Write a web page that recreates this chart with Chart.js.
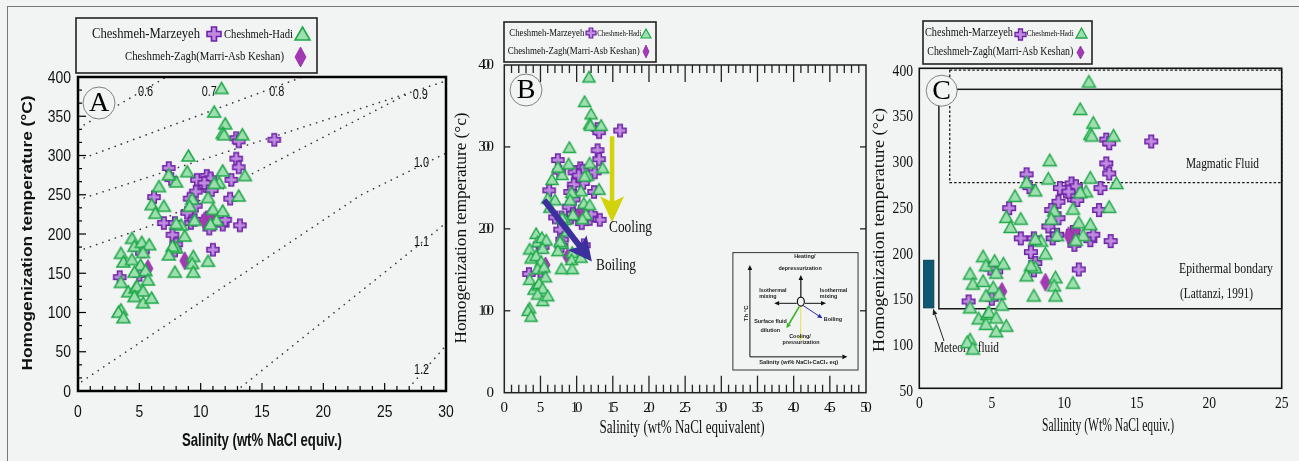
<!DOCTYPE html>
<html>
<head>
<meta charset="utf-8">
<title>Fluid inclusion Th vs salinity</title>
<script src="https://cdn.jsdelivr.net/npm/chart.js@4.4.0/dist/chart.umd.min.js"></script>
<style>
    html, body { margin: 0; padding: 0; background: #f2f3f3; }
    body { width: 1299px; height: 461px; position: relative; overflow: hidden; }
    #frame {
        position: absolute; left: 7px; top: 6px; width: 1300px; height: 470px;
        border-top: 1px solid #777; border-left: 1px solid #777;
    }
    canvas { position: absolute; }
</style>
</head>
<body>
<div id="frame"></div>
<canvas id="chartA"></canvas>
<canvas id="chartB"></canvas>
<canvas id="chartC"></canvas>
<script>
// Salinity (wt% NaCl equiv.) / homogenization temperature (°C)
const marzeyeh = [
    [16.0,320],[12.9,322],[13.1,318],[12.9,296],[13.1,285],[12.5,269],[12.4,245],[13.2,211],
    [11.8,212],[12.0,218],[11.0,180],[10.7,207],[10.5,274],[10.8,271],[10.4,261],[10.9,256],
    [9.7,269],[9.6,254],[9.1,245],[9.6,236],[8.9,227],[9.2,214],[7.4,284],[7.6,270],
    [6.2,247],[7.0,214],[7.9,214],[7.7,199],[8.0,187],[7.9,179],[5.3,178],[5.0,148],
    [3.4,145],[4.9,181],[10.3,265],[10.6,221],[9.5,218]
];
const hadi = [
    [11.7,386],[11.1,356],[12.0,341],[11.8,329],[11.9,327],[13.4,327],[9.0,300],[8.9,280],
    [11.8,281],[13.6,275],[11.5,266],[11.1,265],[10.6,247],[13.1,249],[11.0,232],[11.8,230],
    [11.3,218],[10.8,213],[9.3,245],[9.1,236],[9.5,218],[9.4,172],[9.3,163],[9.4,152],
    [10.6,166],[7.9,152],[8.0,183],[7.7,185],[7.4,174],[8.7,198],[8.4,212],[8.0,214],
    [8.0,267],[7.4,276],[6.6,261],[6.0,238],[7.0,236],[6.3,227],[4.4,195],[4.6,185],
    [5.2,190],[5.8,187],[5.3,177],[3.5,176],[3.7,165],[4.4,168],[5.1,161],[4.6,152],
    [5.5,154],[5.7,142],[3.5,139],[4.1,127],[4.7,132],[4.8,134],[5.3,128],[4.6,121],
    [5.3,113],[6.0,119],[3.5,104],[3.3,101],[3.7,94]
];
const zagh = [[5.7,156],[8.7,166],[10.3,217],[10.8,223]];

// tick labels
const xTicksA = [0, 5, 10, 15, 20, 25, 30];
const yTicksA = [0, 50, 100, 150, 200, 250, 300, 350, 400];
const xTicksB = [0, 5, 10, 15, 20, 25, 30, 35, 40, 45, 50];
const yTicksB = [0, 100, 200, 300, 400];
const xTicksC = [0, 5, 10, 15, 20, 25];
const yTicksC = [50, 100, 150, 200, 250, 300, 350, 400];

// density isopleths of panel A (g/cm3)
const isoLines = [
    [[0.5,339],[7.2,400]],
    [[0.5,297],[18.3,400]],
    [[0.5,246],[30,395]],
    [[0.5,181],[6,211],[26.7,377]],
    [[0.3,12],[23.1,250],[30,303]],
    [[13.3,5],[27.3,180],[30,214]],
    [[27.3,10],[30,58]]
];
const isoLabels = ['0.6', '0.7', '0.8', '0.9', '1.0', '1.1', '1.2'];
const isoLabelAt = [[5.5,381],[10.7,381],[16.2,381],[27.9,377],[28,290],[28,190],[28,27]];

// panel B trends, panel C fields
const coolingArrow = [[14.9,313],[14.9,208]];
const boilingArrow = [[5.5,235],[12.1,160]];
const magmaticField = [2.1, 25, 275, 398];
const epithermalField = [1.35, 25, 137, 377];
const meteoricField = [0.3, 1.0, 138, 190];

const BG = '#f2f3f3';
const SERIF = '"Liberation Serif", "Times New Roman", serif';
const SANS = '"Liberation Sans", Arial, sans-serif';

// ---- marker images ----
function crossMarker(size, arm, lw) {
    const pad = Math.ceil(lw) + 1;
    const c = document.createElement('canvas');
    c.width = c.height = size + pad * 2;
    const g = c.getContext('2d');
    const m = c.width / 2, r = size / 2, h = arm / 2;
    const pts = [[-h,-r],[h,-r],[h,-h],[r,-h],[r,h],[h,h],[h,r],[-h,r],[-h,h],[-r,h],[-r,-h],[-h,-h]];
    g.beginPath();
    pts.forEach((p, i) => i ? g.lineTo(m + p[0], m + p[1]) : g.moveTo(m + p[0], m + p[1]));
    g.closePath();
    g.fillStyle = '#c18be0';
    g.fill();
    g.lineWidth = lw;
    g.strokeStyle = '#6d22a8';
    g.stroke();
    return c;
}

function triMarker(w, h, lw) {
    const pad = Math.ceil(lw) + 1;
    const c = document.createElement('canvas');
    c.width = w + pad * 2;
    c.height = h + pad * 2;
    const g = c.getContext('2d');
    g.beginPath();
    g.moveTo(c.width / 2, pad);
    g.lineTo(pad + w, pad + h);
    g.lineTo(pad, pad + h);
    g.closePath();
    g.fillStyle = '#9ddfae';
    g.fill();
    g.lineWidth = lw;
    g.strokeStyle = '#1fa94a';
    g.stroke();
    return c;
}

function diaMarker(w, h) {
    const c = document.createElement('canvas');
    c.width = w + 2;
    c.height = h + 2;
    const g = c.getContext('2d');
    g.beginPath();
    g.moveTo(c.width / 2, 1);
    g.lineTo(w + 1, c.height / 2);
    g.lineTo(c.width / 2, h + 1);
    g.lineTo(1, c.height / 2);
    g.closePath();
    g.fillStyle = '#a33ab4';
    g.fill();
    g.lineWidth = 0.8;
    g.strokeStyle = '#8e2ba3';
    g.stroke();
    return c;
}

// ---- drawing helpers (page coordinates) ----
function txt(ctx, s, x, y, font, opt) {
    opt = opt || {};
    ctx.save();
    ctx.font = font;
    let sx = opt.sx || 1;
    if (opt.w) sx = opt.w / ctx.measureText(s).width;
    ctx.translate(x, y);
    if (opt.rot) ctx.rotate(opt.rot);
    ctx.scale(sx, 1);
    ctx.fillStyle = opt.color || '#111';
    ctx.textAlign = opt.align || 'center';
    ctx.textBaseline = 'middle';
    ctx.fillText(s, 0, 0);
    ctx.restore();
}

// digits squeezed together (panel B tick labels)
function tightTxt(ctx, s, x, y, font, adv, align) {
    ctx.save();
    ctx.font = font;
    ctx.fillStyle = '#111';
    ctx.textBaseline = 'middle';
    ctx.textAlign = 'left';
    const chars = s.split('');
    const ws = chars.map(ch => ctx.measureText(ch).width);
    let total = ws[ws.length - 1];
    for (let i = 0; i < ws.length - 1; i++) total += ws[i] * adv;
    let cx = align === 'right' ? x - total : x - total / 2;
    chars.forEach((ch, i) => {
        ctx.fillText(ch, cx, y);
        cx += ws[i] * adv;
    });
    ctx.restore();
}

function line(ctx, x1, y1, x2, y2) {
    ctx.beginPath();
    ctx.moveTo(x1, y1);
    ctx.lineTo(x2, y2);
    ctx.stroke();
}

function arrow(ctx, x1, y1, x2, y2, lw, headLen, headW, color, notch) {
    const a = Math.atan2(y2 - y1, x2 - x1);
    const cos = Math.cos(a), sin = Math.sin(a);
    const bx = x2 - headLen * cos, by = y2 - headLen * sin;
    const n = notch || 0;
    ctx.save();
    ctx.strokeStyle = color;
    ctx.fillStyle = color;
    ctx.lineWidth = lw;
    line(ctx, x1, y1, bx + n * cos, by + n * sin);
    ctx.beginPath();
    ctx.moveTo(x2, y2);
    ctx.lineTo(bx + headW * sin, by - headW * cos);
    ctx.lineTo(bx + n * cos, by + n * sin);
    ctx.lineTo(bx - headW * sin, by + headW * cos);
    ctx.closePath();
    ctx.fill();
    ctx.restore();
}

function letterCircle(ctx, ch, x, y, r) {
    ctx.save();
    ctx.beginPath();
    ctx.arc(x, y, r, 0, Math.PI * 2);
    ctx.fillStyle = BG;
    ctx.fill();
    ctx.lineWidth = 0.8;
    ctx.strokeStyle = '#666';
    ctx.stroke();
    ctx.restore();
    txt(ctx, ch, x, y + 1, '28px ' + SERIF, { color: '#000' });
}

function icon(ctx, img, x, y) {
    ctx.drawImage(img, Math.round(x - img.width / 2), Math.round(y - img.height / 2));
}

function legendBox(ctx, L, icons) {
    ctx.save();
    ctx.lineWidth = 1.6;
    ctx.strokeStyle = '#222';
    ctx.strokeRect(L.x1, L.y1, L.x2 - L.x1, L.y2 - L.y1);
    ctx.restore();
    L.texts.forEach(t => txt(ctx, t[0], t[1], t[2], t[4] + 'px ' + SERIF, { w: t[3], align: 'left' }));
    icon(ctx, icons.cross, L.cross[0], L.cross[1]);
    icon(ctx, icons.tri, L.tri[0], L.tri[1]);
    icon(ctx, icons.dia, L.dia[0], L.dia[1]);
}

// ---- chart factory ----
function pointSets(cr, tr, di) {
    const toXY = arr => arr.map(p => ({ x: p[0], y: p[1] }));
    return [
        { label: 'Cheshmeh-Hadi', data: toXY(hadi), pointStyle: tr, pointRadius: 6, order: 1 },
        { label: 'Cheshmeh-Zagh(Marri-Asb Keshan)', data: toXY(zagh), pointStyle: di, pointRadius: 6, order: 2 },
        { label: 'Cheshmeh-Marzeyeh', data: toXY(marzeyeh), pointStyle: cr, pointRadius: 6, order: 3 }
    ];
}

function makeChart(id, panel, xr, yr, datasets, before, after) {
    const cv = document.getElementById(id);
    const b = panel.box, a = panel.area;
    cv.width = b.w;
    cv.height = b.h;
    cv.style.left = b.x + 'px';
    cv.style.top = b.y + 'px';
    cv.style.width = b.w + 'px';
    cv.style.height = b.h + 'px';

    const getMap = chart => ({
        X: v => chart.scales.x.getPixelForValue(v) + b.x,
        Y: v => chart.scales.y.getPixelForValue(v) + b.y,
        a: {
            x1: chart.chartArea.left + b.x, x2: chart.chartArea.right + b.x,
            y1: chart.chartArea.top + b.y, y2: chart.chartArea.bottom + b.y
        }
    });
    const deco = {
        id: 'deco',
        beforeDatasetsDraw(chart) {
            if (!before) return;
            const ctx = chart.ctx;
            ctx.save();
            ctx.translate(-b.x, -b.y);
            before(ctx, getMap(chart));
            ctx.restore();
        },
        afterDraw(chart) {
            const ctx = chart.ctx;
            ctx.save();
            ctx.translate(-b.x, -b.y);
            after(ctx, getMap(chart));
            ctx.restore();
        }
    };

    return new Chart(cv, {
        type: 'scatter',
        data: { datasets: datasets },
        options: {
            responsive: false,
            animation: false,
            devicePixelRatio: 1,
            events: [],
            layout: {
                padding: { left: a.x1 - b.x, top: a.y1 - b.y, right: b.x + b.w - a.x2, bottom: b.y + b.h - a.y2 }
            },
            scales: {
                x: { type: 'linear', min: xr[0], max: xr[1], display: false },
                y: { type: 'linear', min: yr[0], max: yr[1], display: false }
            },
            plugins: { legend: { display: false }, tooltip: { enabled: false } }
        },
        plugins: [deco]
    });
}

// ---------- Panel A ----------
const panelA = { box: { x: 8, y: 8, w: 452, h: 450 }, area: { x1: 78, y1: 77, x2: 446, y2: 391 } };
const iconsA = { cross: crossMarker(14, 5, 1.6), tri: triMarker(15, 13, 1.6), dia: diaMarker(11, 20) };
const dsA = pointSets(crossMarker(12, 4.5, 1.5), triMarker(13, 11, 1.5), diaMarker(10, 18));
isoLines.forEach((pts, i) => {
    dsA.push({
        label: isoLabels[i],
        data: pts.map(p => ({ x: p[0], y: p[1] })),
        showLine: true, pointRadius: 0, order: 10,
        borderColor: '#3a3a3a', borderWidth: 1.6, borderDash: [0.2, 6.4], borderCapStyle: 'round'
    });
});

makeChart('chartA', panelA, [0, 30], [0, 400], dsA,
    function (ctx, m) {
        isoLabels.forEach((s, i) => txt(ctx, s, m.X(isoLabelAt[i][0]), m.Y(isoLabelAt[i][1]), '14px ' + SANS, { sx: 0.78 }));
    },
    function (ctx, m) {
        const a = m.a;
        ctx.strokeStyle = '#000';
        ctx.lineWidth = 2.5;
        ctx.strokeRect(a.x1, a.y1, a.x2 - a.x1, a.y2 - a.y1);
        ctx.lineWidth = 1.2;
        for (let i = 0; i <= 24; i++) {
            const y = m.Y(i * 50 / 3);
            line(ctx, a.x1, y, a.x1 + (i % 3 === 0 ? 8 : 4), y);
        }
        for (let v = 0; v <= 30; v++) {
            const x = m.X(v);
            line(ctx, x, a.y2, x, a.y2 - (v % 5 === 0 ? 8 : 5));
        }
        yTicksA.forEach(v => txt(ctx, String(v), a.x1 - 7, m.Y(v) + 1, '17px ' + SANS, { sx: 0.82, align: 'right' }));
        xTicksA.forEach(v => txt(ctx, String(v), m.X(v), 412, '17px ' + SANS, { sx: 0.82 }));
        txt(ctx, 'Homogenization temperature (°C)', 28, 233, 'bold 15px ' + SANS, { w: 275, rot: -Math.PI / 2 });
        txt(ctx, 'Salinity (wt% NaCl equiv.)', 262, 441, 'bold 18px ' + SANS, { w: 160 });
        letterCircle(ctx, 'A', 99, 103, 16);
        legendBox(ctx, {
            x1: 76, y1: 18, x2: 317, y2: 73,
            texts: [['Cheshmeh-Marzeyeh', 92, 34, 108, 14], ['Cheshmeh-Hadi', 224, 35, 69, 13],
                    ['Cheshmeh-Zagh(Marri-Asb Keshan)', 125, 57, 159, 13]],
            cross: [214, 34], tri: [302, 33], dia: [300, 57]
        }, iconsA);
    });

// ---------- Panel B ----------
const panelB = { box: { x: 450, y: 8, w: 430, h: 450 }, area: { x1: 504.3, y1: 65, x2: 866, y2: 392.7 } };
const iconsB = { cross: crossMarker(10, 3.6, 1.2), tri: triMarker(10, 9, 1.2), dia: diaMarker(6, 13) };
const dsB = pointSets(crossMarker(12, 4.5, 1.5), triMarker(12, 10.5, 1.5), diaMarker(9, 16));

makeChart('chartB', panelB, [0, 50], [0, 400], dsB, null,
    function (ctx, m) {
        const a = m.a;
        // trend arrows
        arrow(ctx, m.X(coolingArrow[0][0]), m.Y(coolingArrow[0][1]), m.X(coolingArrow[1][0]), m.Y(coolingArrow[1][1]),
              4.5, 26, 12, '#d3d30c', 6);
        arrow(ctx, m.X(boilingArrow[0][0]), m.Y(boilingArrow[0][1]), m.X(boilingArrow[1][0]), m.Y(boilingArrow[1][1]),
              6, 24, 12, '#3c2f9e', 5);
        txt(ctx, 'Cooling', 609, 228, '17px ' + SERIF, { w: 43, align: 'left' });
        txt(ctx, 'Boiling', 596, 266, '17px ' + SERIF, { w: 40, align: 'left' });

        // frame and ticks
        ctx.strokeStyle = '#222';
        ctx.lineWidth = 1.5;
        ctx.strokeRect(a.x1, a.y1, a.x2 - a.x1, a.y2 - a.y1);
        ctx.lineWidth = 1.3;
        for (let v = 1; v < 50; v++) {
            const x = m.X(v), len = v % 5 === 0 ? 17 : 8;
            line(ctx, x, a.y1, x, a.y1 + len);
            line(ctx, x, a.y2, x, a.y2 - len);
        }
        [100, 200, 300].forEach(v => {
            line(ctx, a.x1, m.Y(v), a.x1 + 6, m.Y(v));
            line(ctx, a.x2, m.Y(v), a.x2 - 6, m.Y(v));
        });
        yTicksB.forEach(v => tightTxt(ctx, String(v), 494, m.Y(v), '15px ' + SERIF, 0.55, 'right'));
        xTicksB.forEach(v => tightTxt(ctx, String(v), m.X(v), 408, '15px ' + SERIF, 0.55, 'center'));
        txt(ctx, 'Homogenization temperature (°c)', 462, 228, '17px ' + SERIF, { w: 231, rot: -Math.PI / 2 });
        txt(ctx, 'Salinity (wt% NaCl equivalent)', 682, 428, '19px ' + SERIF, { w: 165 });

        // inset diagram
        const ix1 = m.X(31.6), iy1 = m.Y(171), ix2 = m.X(48.9), iy2 = m.Y(27.7);
        const P = (fx, fy) => [ix1 + fx * (ix2 - ix1), iy1 + fy * (iy2 - iy1)];
        ctx.fillStyle = BG;
        ctx.fillRect(ix1, iy1, ix2 - ix1, iy2 - iy1);
        ctx.strokeStyle = '#333';
        ctx.lineWidth = 1;
        ctx.strokeRect(ix1, iy1, ix2 - ix1, iy2 - iy1);
        const ar = (f, t, col, lw) => arrow(ctx, P(...f)[0], P(...f)[1], P(...t)[0], P(...t)[1], lw, 5, 2.3, col, 0);
        ar([0.136, 0.888], [0.136, 0.105], '#111', 1);
        ar([0.136, 0.888], [0.915, 0.888], '#111', 1);
        ar([0.543, 0.38], [0.543, 0.19], '#111', 1.2);
        ar([0.51, 0.432], [0.33, 0.432], '#111', 1);
        ar([0.575, 0.432], [0.744, 0.432], '#111', 1);
        ar([0.53, 0.46], [0.428, 0.645], '#3cb521', 1.6);
        ar([0.543, 0.46], [0.54, 0.75], '#e3e34a', 1);
        ar([0.56, 0.45], [0.716, 0.56], '#2a2aa8', 1);
        const c = P(0.543, 0.417);
        ctx.beginPath();
        ctx.ellipse(c[0], c[1], 3.5, 4.5, 0, 0, Math.PI * 2);
        ctx.fillStyle = BG;
        ctx.fill();
        ctx.strokeStyle = '#111';
        ctx.lineWidth = 1.2;
        ctx.stroke();
        const f6 = 'bold 6px ' + SANS;
        const it = (s, fx, fy, align, w) => { const p = P(fx, fy); txt(ctx, s, p[0], p[1], f6, { align: align, w: w, sx: 0.9, color: '#222' }); };
        it('Heating/', 0.575, 0.034, 'center');
        it('depressurization', 0.537, 0.133, 'center');
        it('Isothermal', 0.21, 0.318, 'left');
        it('mixing', 0.21, 0.375, 'left');
        it('Isothermal', 0.695, 0.318, 'left');
        it('mixing', 0.695, 0.375, 'left');
        it('Surface fluid', 0.17, 0.588, 'left');
        it('dilution', 0.221, 0.659, 'left');
        it('Cooling/', 0.45, 0.71, 'left');
        it('pressurization', 0.397, 0.767, 'left');
        it('Boiling', 0.726, 0.565, 'left');
        it('Salinity (wt% NaCl+CaCl\u2082 eq)', 0.21, 0.938, 'left', 79);
        const tp = P(0.104, 0.517);
        txt(ctx, 'Th °C', tp[0], tp[1], f6, { rot: -Math.PI / 2, color: '#222' });

        letterCircle(ctx, 'B', 526, 90, 16);
        legendBox(ctx, {
            x1: 504, y1: 22, x2: 656, y2: 62,
            texts: [['Cheshmeh-Marzeyeh', 509.3, 33, 75, 11], ['Cheshmeh-Hadi', 597.3, 34, 44, 8],
                    ['Cheshmeh-Zagh(Marri-Asb Keshan)', 507.7, 51, 132, 11]],
            cross: [590.7, 33], tri: [646.3, 33], dia: [645.7, 51]
        }, iconsB);
    });

// ---------- Panel C ----------
const panelC = { box: { x: 868, y: 8, w: 426, h: 450 }, area: { x1: 919.3, y1: 68.3, x2: 1281.7, y2: 388.3 } };
const iconsC = { cross: crossMarker(11, 4, 1.3), tri: triMarker(11, 10, 1.3), dia: diaMarker(7, 13) };
const dsC = pointSets(crossMarker(12.5, 4.6, 1.5), triMarker(13, 11.5, 1.5), diaMarker(10, 18));

makeChart('chartC', panelC, [0, 25], [50, 400], dsC,
    function (ctx, m) {
        // fluid fields
        ctx.strokeStyle = '#1a1a1a';
        ctx.lineWidth = 1.5;
        const e = epithermalField;
        ctx.strokeRect(m.X(e[0]), m.Y(e[3]), m.X(e[1]) - m.X(e[0]), m.Y(e[2]) - m.Y(e[3]));
        const g = magmaticField;
        ctx.save();
        ctx.setLineDash([2.5, 2]);
        ctx.lineWidth = 1.3;
        ctx.strokeRect(m.X(g[0]), m.Y(g[3]), m.X(g[1]) - m.X(g[0]), m.Y(g[2]) - m.Y(g[3]));
        ctx.restore();
        const mf = meteoricField;
        ctx.fillStyle = '#0e5874';
        ctx.fillRect(m.X(mf[0]), m.Y(mf[3]), m.X(mf[1]) - m.X(mf[0]), m.Y(mf[2]) - m.Y(mf[3]));
        ctx.strokeStyle = '#0a3d52';
        ctx.lineWidth = 1;
        ctx.strokeRect(m.X(mf[0]), m.Y(mf[3]), m.X(mf[1]) - m.X(mf[0]), m.Y(mf[2]) - m.Y(mf[3]));
        arrow(ctx, 944, 341, m.X(0.95), m.Y(mf[2]) + 1, 1, 6, 2.5, '#222', 0);

        txt(ctx, 'Meteoric fluid', 934, 348, '15px ' + SERIF, { w: 65, align: 'left' });
        txt(ctx, 'Magmatic Fluid', 1186, 164, '15px ' + SERIF, { w: 73, align: 'left' });
        txt(ctx, 'Epithermal bondary', 1179, 269, '15px ' + SERIF, { w: 94, align: 'left' });
        txt(ctx, '(Lattanzi, 1991)', 1180, 294, '15px ' + SERIF, { w: 73, align: 'left' });
        letterCircle(ctx, 'C', 941.7, 90.7, 15.5);
    },
    function (ctx, m) {
        const a = m.a;
        ctx.strokeStyle = '#111';
        ctx.lineWidth = 1.6;
        ctx.strokeRect(a.x1, a.y1, a.x2 - a.x1, a.y2 - a.y1);
        yTicksC.forEach(v => txt(ctx, String(v), 913, m.Y(v) + 3, '17px ' + SERIF, { sx: 0.8, align: 'right' }));
        xTicksC.forEach(v => txt(ctx, String(v), m.X(v), 404, '17px ' + SERIF, { sx: 0.8 }));
        txt(ctx, 'Homogenization temperature (°c)', 880, 230, '17px ' + SERIF, { w: 244, rot: -Math.PI / 2 });
        txt(ctx, 'Sallinity (Wt% NaCl equiv.)', 1108, 426, '18px ' + SERIF, { w: 132 });
        legendBox(ctx, {
            x1: 923, y1: 21, x2: 1092, y2: 64,
            texts: [['Cheshmeh-Marzeyeh', 925, 33, 88, 12], ['Cheshmeh-Hadi', 1026.7, 34, 47, 8.5],
                    ['Cheshmeh-Zagh(Marri-Asb Keshan)', 927.3, 52, 146, 12]],
            cross: [1020, 34], tri: [1081, 33], dia: [1080.3, 52]
        }, iconsC);
    });
</script>
</body>
</html>
